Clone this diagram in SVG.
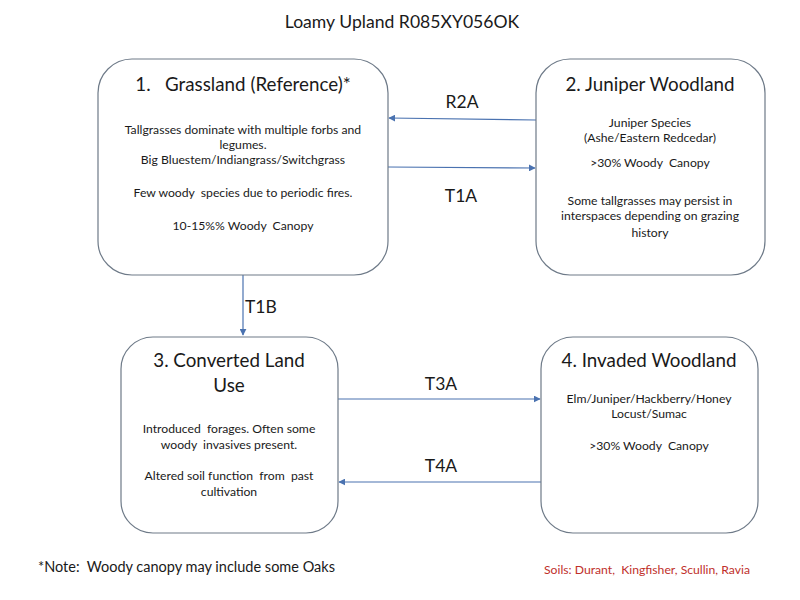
<svg xmlns="http://www.w3.org/2000/svg" width="800" height="600" viewBox="0 0 800 600">
<style>
text { font-family: Lato, "Liberation Sans", sans-serif; fill: #1a1a1a; white-space: pre; }
.box { fill: #ffffff; stroke: #6e7a88; stroke-width: 1.2; }
.head { font-size: 18.8px; text-anchor: middle; }
.body { font-size: 12.2px; text-anchor: middle; }
.lbl { font-size: 17.5px; }
.conn { stroke: #4a72b0; stroke-width: 1.2; fill: none; marker-end: url(#arr); }
</style>
<defs>
<marker id="arr" viewBox="0 0 10 10" refX="9" refY="5" markerWidth="7" markerHeight="7" markerUnits="userSpaceOnUse" orient="auto">
<path d="M0,0 L10,5 L0,10 z" fill="#4a72b0"/>
</marker>
</defs>
<rect width="800" height="600" fill="#ffffff"/>
<text x="402" y="28" style="font-size:17.6px; text-anchor:middle">Loamy Upland R085XY056OK</text>

<g id="connectors">
<line class="conn" x1="536" y1="120" x2="389" y2="118"/>
<line class="conn" x1="388" y1="167" x2="535" y2="168"/>
<line class="conn" x1="243" y1="275" x2="243" y2="335"/>
<line class="conn" x1="338" y1="399" x2="540" y2="399"/>
<line class="conn" x1="541" y1="482" x2="339" y2="482"/>
<text class="lbl" x="462" y="108" text-anchor="middle">R2A</text>
<text class="lbl" x="461" y="202" text-anchor="middle">T1A</text>
<text class="lbl" x="245" y="313">T1B</text>
<text class="lbl" x="441" y="390" text-anchor="middle">T3A</text>
<text class="lbl" x="441" y="472" text-anchor="middle">T4A</text>
</g>

<g id="node1">
<rect class="box" x="98" y="59" width="290" height="216" rx="34" ry="34"/>
<text class="head" x="243" y="91">1.   Grassland (Reference)*</text>
<text class="body" x="243" y="134">Tallgrasses dominate with multiple forbs and</text>
<text class="body" x="243" y="149">legumes.</text>
<text class="body" x="243" y="164">Big Bluestem/Indiangrass/Switchgrass</text>
<text class="body" x="243" y="197">Few woody  species due to periodic fires.</text>
<text class="body" x="243" y="230">10-15%% Woody  Canopy</text>
</g>

<g id="node2">
<rect class="box" x="536" y="59" width="229" height="216" rx="34" ry="34"/>
<text class="head" x="650" y="91">2. Juniper Woodland</text>
<text class="body" x="650" y="127">Juniper Species</text>
<text class="body" x="650" y="142">(Ashe/Eastern Redcedar)</text>
<text class="body" x="650" y="167">&gt;30% Woody  Canopy</text>
<text class="body" x="650" y="205">Some tallgrasses may persist in</text>
<text class="body" x="650" y="220">interspaces depending on grazing</text>
<text class="body" x="650" y="237">history</text>
</g>

<g id="node3">
<rect class="box" x="121" y="337" width="217" height="196" rx="32" ry="32"/>
<text class="head" x="229" y="367">3. Converted Land</text>
<text class="head" x="229" y="392">Use</text>
<text class="body" x="229" y="433">Introduced  forages. Often some</text>
<text class="body" x="229" y="449">woody  invasives present.</text>
<text class="body" x="229" y="480">Altered soil function  from  past</text>
<text class="body" x="229" y="496">cultivation</text>
</g>

<g id="node4">
<rect class="box" x="541" y="337" width="217" height="196" rx="32" ry="32"/>
<text class="head" x="649" y="367">4. Invaded Woodland</text>
<text class="body" x="649" y="403">Elm/Juniper/Hackberry/Honey</text>
<text class="body" x="649" y="418">Locust/Sumac</text>
<text class="body" x="649" y="450">&gt;30% Woody  Canopy</text>
</g>

<text x="38" y="572" style="font-size:14.5px">*Note:  Woody canopy may include some Oaks</text>
<text x="544" y="574" style="font-size:12.2px; fill:#c0302b">Soils: Durant,  Kingfisher, Scullin, Ravia</text>
</svg>
